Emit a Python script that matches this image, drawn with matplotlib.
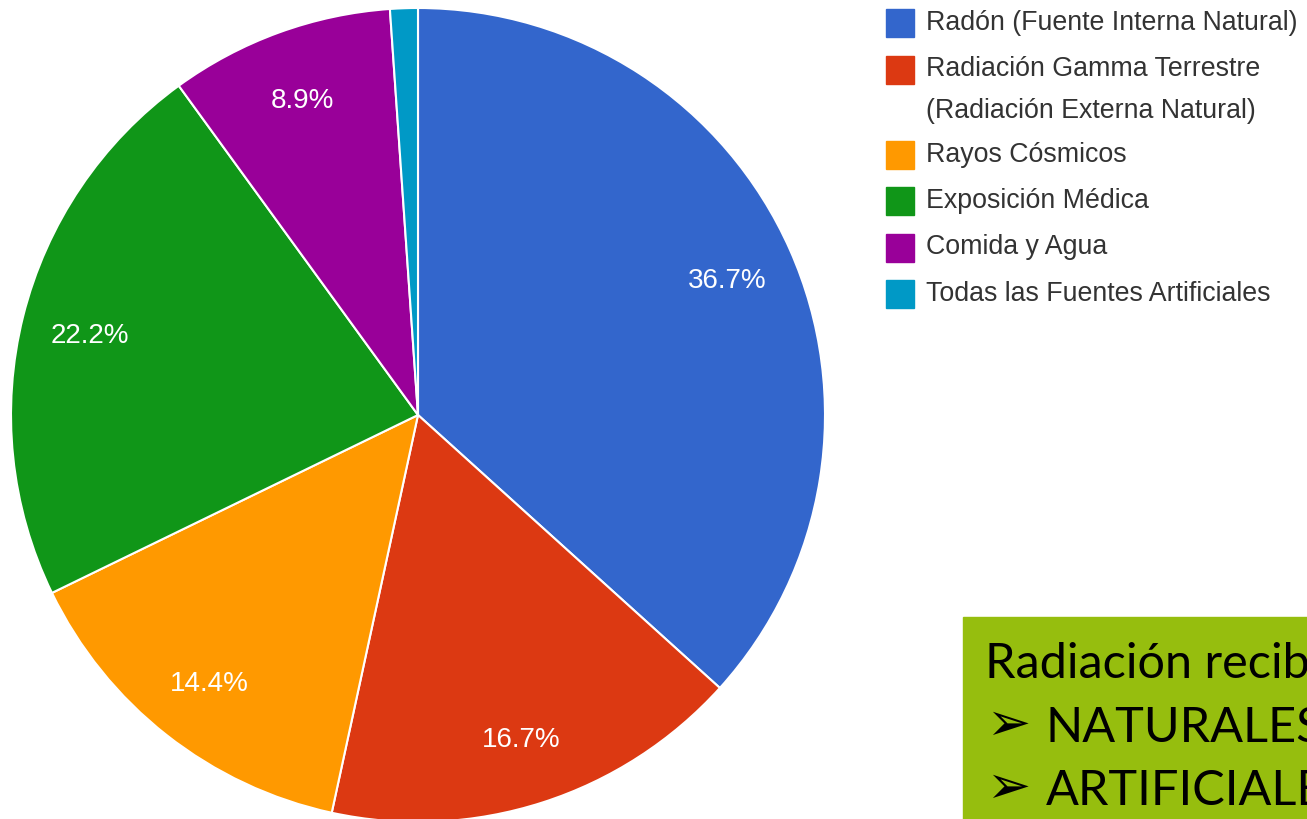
import matplotlib.pyplot as plt
from matplotlib.patches import Rectangle

# Data
labels = ['Radón (Fuente Interna Natural)',
          'Radiación Gamma Terrestre\n(Radiación Externa Natural)',
          'Rayos Cósmicos',
          'Exposición Médica',
          'Comida y Agua',
          'Todas las Fuentes Artificiales']
values = [36.7, 16.7, 14.4, 22.2, 8.9, 1.1]
colors = ['#3366CC', '#DC3912', '#FF9900', '#109618', '#990099', '#0099C6']

box_title = 'Radiación recibida'
box_items = ['NATURALES:', 'ARTIFICIALES:']

W, H = 1307, 819
fig = plt.figure(figsize=(W / 100, H / 100), dpi=100)

# Pie
ax = fig.add_axes([11 / W, 1 - 822 / H, 814 / W, 814 / H])
wedges, texts, autotexts = ax.pie(
    values, colors=colors, startangle=90, counterclock=False,
    autopct=lambda p: f'{p:.1f}%' if p > 2 else '',
    pctdistance=0.83,
    wedgeprops=dict(edgecolor='white', linewidth=1.5),
    textprops=dict(color='white', fontsize=20, family='Liberation Sans'))
for t in autotexts:
    t.set_va('center_baseline')
ax.set_xlim(-1, 1)
ax.set_ylim(-1, 1)
ax.axis('off')

# Legend drawn by hand so the square lines up with the first text line
y = 23
for lab, col in zip(labels, colors):
    fig.add_artist(Rectangle((886 / W, 1 - (y + 14) / H), 28 / W, 28 / H,
                             transform=fig.transFigure, color=col))
    lines = lab.split('\n')
    for k, line in enumerate(lines):
        fig.text(926 / W, 1 - (y + k * 41) / H, line, va='center', ha='left',
                 fontsize=19.3, color='#333333', family='Liberation Sans')
    y += 46.5 + (len(lines) - 1) * 38.5

# Green note box (cut off at the right edge, like the reference)
fig.add_artist(Rectangle((963 / W, 0), 1, (H - 617) / H,
                         transform=fig.transFigure, color='#96BE0E'))
fig.text(985 / W, 1 - 678 / H, box_title, va='baseline', ha='left',
         fontsize=35, color='black', family=['Lato', 'DejaVu Sans'])
for i, item in enumerate(box_items):
    base = 742 + i * 63
    fig.text(986 / W, 1 - (base - 17) / H, '\u27a2', va='center', ha='left',
             fontsize=38, color='black', family=['DejaVu Sans'])
    fig.text(1046 / W, 1 - base / H, item, va='baseline', ha='left',
             fontsize=35, color='black', family=['Lato', 'DejaVu Sans'])

fig.savefig('out.png', dpi=100)
